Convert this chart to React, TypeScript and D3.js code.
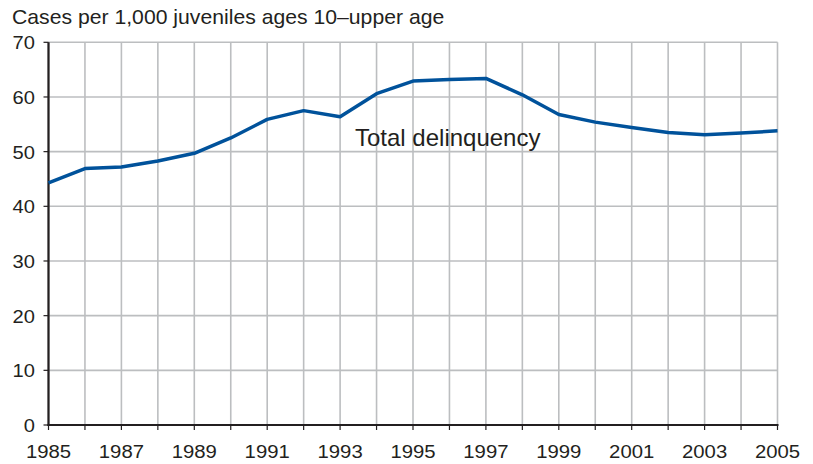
import React from "react";
import * as d3 from "d3";

const years = [1985,1986,1987,1988,1989,1990,1991,1992,1993,1994,1995,1996,1997,1998,1999,2000,2001,2002,2003,2004,2005];
const rates = [44.3,46.9,47.2,48.3,49.7,52.5,55.9,57.5,56.4,60.6,62.9,63.2,63.4,60.4,56.8,55.4,54.4,53.5,53.1,53.4,53.8];
const yTicks = [0,10,20,30,40,50,60,70];
const xLabelYears = [1985,1987,1989,1991,1993,1995,1997,1999,2001,2003,2005];
const yTitle = "Cases per 1,000 juveniles ages 10\u2013upper age";
const seriesLabel = "Total delinquency";

function T(props: { x: number; y: number; size: number; sx?: number; anchor?: string; children: React.ReactNode }) {
  const { x, y, size, sx = 1, anchor = "start", children } = props;
  return (
    <text transform={`translate(${x},${y}) scale(${sx},1)`} fontSize={size} textAnchor={anchor} fill="#231f20">
      {children}
    </text>
  );
}

export default function App() {
  const W = 813, H = 464;
  const left = 48.5, right = 777.5, top = 42.3, bottom = 425;
  const x = d3.scaleLinear().domain([1985, 2005]).range([left, right]);
  const y = d3.scaleLinear().domain([0, 70]).range([bottom, top]);
  const line = d3.line<number>().x((_, i) => x(years[i])).y(d => y(d));
  const font = "'Liberation Sans', Arial, Helvetica, sans-serif";
  return (
    <svg width={W} height={H} style={{ position: "absolute", left: 0, top: 0 }} fontFamily={font}>
      <rect width={W} height={H} fill="#fff" />
      {years.map(yr => (
        <line key={"v" + yr} x1={x(yr)} x2={x(yr)} y1={top} y2={bottom} stroke="#bcbec0" strokeWidth={1.6} />
      ))}
      {yTicks.map(t => (
        <line key={"h" + t} x1={left} x2={right} y1={y(t)} y2={y(t)} stroke="#bcbec0" strokeWidth={1.6} />
      ))}
      <line x1={left} x2={left} y1={top} y2={bottom + 1} stroke="#231f20" strokeWidth={2.2} />
      <line x1={left - 1} x2={right + 1} y1={bottom} y2={bottom} stroke="#231f20" strokeWidth={2.2} />
      {yTicks.map(t => (
        <g key={"yt" + t}>
          <line x1={left - 5} x2={left} y1={y(t)} y2={y(t)} stroke="#231f20" strokeWidth={1.2} />
          <T x={35} y={y(t) + 7} size={19} sx={1.06} anchor="end">{t}</T>
        </g>
      ))}
      {years.map(yr => (
        <line key={"xt" + yr} x1={x(yr)} x2={x(yr)} y1={bottom} y2={bottom + 5} stroke="#231f20" strokeWidth={1.2} />
      ))}
      {xLabelYears.map(yr => (
        <T key={"xl" + yr} x={x(yr)} y={457.5} size={19} sx={1.07} anchor="middle">{yr}</T>
      ))}
      <path d={line(rates) || ""} fill="none" stroke="#00529b" strokeWidth={3.5} strokeLinejoin="round" />
      <T x={355} y={146} size={24}>{seriesLabel}</T>
      <T x={12} y={24} size={20} sx={1.06}>{yTitle}</T>
    </svg>
  );
}
